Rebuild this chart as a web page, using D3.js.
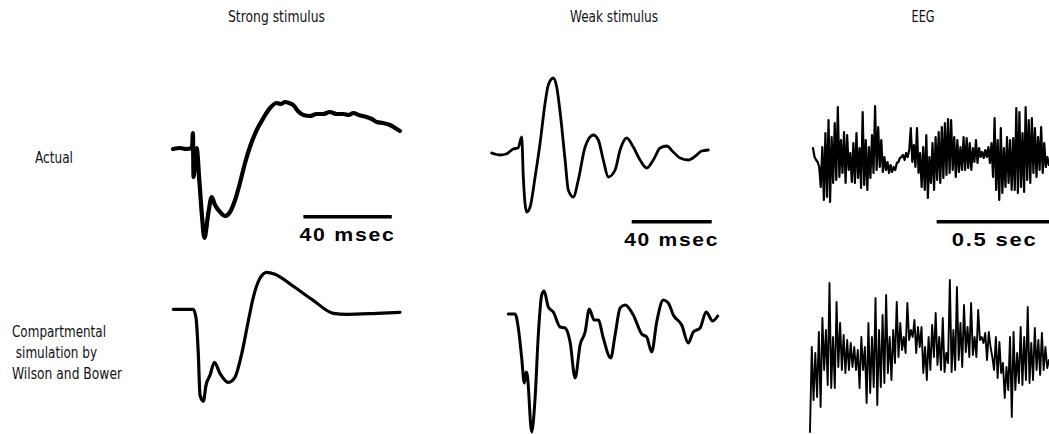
<!DOCTYPE html>
<html><head><meta charset="utf-8">
<script src="https://cdn.jsdelivr.net/npm/d3@7"></script>
<style>body{margin:0;background:#fff}svg{display:block}</style>
</head><body>
<script>
// ---------- DATA ----------
const columnTitles = ["Strong stimulus", "Weak stimulus", "EEG"];
const rowLabels = [["Actual"], ["Compartmental", " simulation by", "Wilson and Bower"]];

// Strong stimulus, actual (time ms, amplitude a.u.)
const strongActualT = [0,3.2,5.9,8.6,9.0,9.3,10.7,11.9,13.0,14.2,16.0,17.5,19.0,21.3,23.5,25.8,28.1,30.3,32.6,34.8,37.9,40.9,43.9,46.9,48.8,50.7,52.5,54.4,56.5,59.0,62,65.0,68,71.0,74,77.1,79.5,81.6,84,87.6,90,92.2,95,98.2,100.5,102.7];
const strongActualV = [0,1,0,1,16,-28,1,-31,-64,-89,-64,-48,-56,-63,-67,-63,-51,-34,-14,2,19,31,41,46,45,47,46,44,38,34,33,35,35,37,35,35,34,36,34,32,30,27,26,24,21,18];

// Strong stimulus, simulation
const strongSimT = [0,9.0,10.3,11.3,12.1,13.6,14.8,16.6,18.6,21.1,24.9,27.9,31.0,34.0,36.2,39.2,42.3,46.0,54.3,63.3,72.4,78.5,92.1,102.6];
const strongSimV = [0,0,-9,-44,-86,-92,-76,-66,-53,-64,-73,-68,-44,-11,12,31,37,35,23,9,-4,-5,-4,-3];

// Weak stimulus, actual
const weakActualT = [0,4.2,7.2,10.8,13.2,15.0,15.8,17.5,19.2,21.7,24.2,26.7,28.3,30.8,32.5,34.2,36.7,38.3,40.8,43.3,46.7,50.8,53.3,55.8,58.3,61.7,64.2,67.5,70.8,74.2,77.5,80.8,84.2,87.5,90.8,94.2,98.3,102.5,105.0,108.3];
const weakActualV = [0,-2,-1,4,5,16,-24,-59,-54,-24,10,50,68,75,66,41,-7,-37,-44,-27,6,18,13,-7,-24,-17,3,15,6,-7,-15,-7,5,7,1,-5,-7,-2,2,3];

// Weak stimulus, simulation
const weakSimT = [0,3.4,5.0,6.7,8.0,8.9,9.5,11.7,13.4,15.0,16.7,17.9,20.0,22.5,25.9,28.4,30.9,33.4,35.9,38.4,40.5,42.9,45.0,47.5,51.2,53.4,55.9,58.4,62.5,66.7,69.2,71.7,74.2,77.5,80.0,82.5,86.7,90.0,92.5,95.9,98.9,102.2,104.7];
const weakSimV = [0,0,-14,-44,-69,-58,-61,-118,-84,-21,19,23,7,2,-13,-14,-28,-64,-31,-18,5,-6,-6,-24,-44,-21,6,9,-1,-20,-23,-38,-8,14,11,-1,-11,-29,-18,-14,2,-7,-2];

// EEG, actual (uniform sampling, ms per sample)
const eegActualDt = 6.69;
const eegActualV = [15,6,3,1,-4,
 -24,16,-37,30,-34,43,-39,26,-20,40,-17,56,-14,23,-10,31,
 -20,28,-7,10,-19,20,-20,30,-15,15,-25,51,-22,23,-27,16,-15,28,-10,57,-7,36,-4,23,-9,6,
 -7,1,-10,-2,-9,-4,-7,0,1,5,6,8,3,10,6,13,
 35,1,18,-4,35,-10,10,-24,16,-27,28,-35,6,-20,20,-27,26,-17,
 31,-20,36,-15,40,-12,44,-10,43,-7,26,-14,23,-9,16,-7,
 26,-7,25,-5,20,-7,15,1,23,0,15,6,11,5,13,6,16,0,20,-14,
 45,-27,23,-37,35,-30,15,-24,26,-20,23,-27,25,
 -27,55,-30,51,-24,30,-29,56,-17,43,-20,45,-10,35,-14,26,-7,36,-10,20,-4,6,-2];

// EEG, simulation
const eegSimDt = 7.63;
const eegSimV = [-69,16,-37,10,-34,31,-44,45,-7,33,
 -22,80,-25,26,-25,61,-4,40,-7,28,
 -10,23,-7,20,-4,16,-7,13,-25,26,
 -7,16,-40,40,-30,26,-24,65,-42,33,
 -24,48,-20,68,-10,26,-17,33,0,61,
 6,40,
 13,26,10,60,23,33,26,43,10,36,
 16,36,-10,16,-17,26,-7,38,6,50,-2,26,
 -7,45,-9,10,0,83,-9,33,-7,76,
 3,40,-4,58,11,36,6,60,8,26,
 6,53,23,26,20,30,3,31,16,6,
 -7,26,-15,21,-10,0,-35,-4,-27,26,
 -54,31,-27,10,-20,36,-22,26,-17,56,
 -20,20,-17,35,-7,23,-12,30,-7,16,
 -5,3];

// Scale bars: [start, length] in ms
const strongBar = [59, 40];
const weakBar = [70, 40];
const eegBar = [533, 500];
const barLabels = ["40 msec", "40 msec", "0.5 sec"];

// ---------- DRAW ----------
const W = 1049, H = 434;
const svg = d3.select("body").append("svg").attr("width", W).attr("height", H);
svg.append("rect").attr("width", W).attr("height", H).attr("fill", "#fff");

const thinFont = "'Liberation Sans Narrow','DejaVu Sans Condensed','Open Sans',sans-serif";
const boldFont = "'Liberation Sans','Arial',sans-serif";

function panel(x0, pxPerMs, baseY) {
  const x = d3.scaleLinear().domain([0, 100]).range([x0, x0 + 100 * pxPerMs]);
  const y = d3.scaleLinear().domain([-100, 100]).range([baseY + 100, baseY - 100]);
  return {x, y};
}
function trace(p, T, V, width, curve) {
  const pts = T.map((t, i) => [t, V[i]]);
  const line = d3.line().x(d => p.x(d[0])).y(d => p.y(d[1])).curve(curve);
  svg.append("path").attr("d", line(pts)).attr("fill", "none")
    .attr("stroke", "#000").attr("stroke-width", width)
    .attr("stroke-linejoin", "round").attr("stroke-linecap", "round");
}
function bar(p, b, v, label, len) {
  const yb = p.y(v);
  svg.append("line").attr("x1", p.x(b[0])).attr("x2", p.x(b[0] + b[1]))
    .attr("y1", yb).attr("y2", yb).attr("stroke", "#000").attr("stroke-width", 3.5);
  const cx = (p.x(b[0]) + Math.min(p.x(b[0] + b[1]), W + 4)) / 2;
  svg.append("text").attr("x", cx).attr("y", yb + 24).attr("text-anchor", "middle")
    .attr("font-family", boldFont).attr("font-weight", "bold").attr("font-size", 18.5)
    .attr("letter-spacing", 1.5)
    .attr("textLength", len).attr("lengthAdjust", "spacingAndGlyphs")
    .text(label);
}

const pSA = panel(173, 2.21, 149);
const pSS = panel(173.3, 2.21, 309.3);
const pWA = panel(491.7, 2.0, 153);
const pWS = panel(508.3, 2.0, 314);
const pEA = panel(813, 0.232, 163);
const pES = panel(810, 0.232, 363);

trace(pSA, strongActualT, strongActualV, 4.2, d3.curveMonotoneX);
trace(pSS, strongSimT, strongSimV, 3.2, d3.curveMonotoneX);
trace(pWA, weakActualT, weakActualV, 2.8, d3.curveMonotoneX);
trace(pWS, weakSimT, weakSimV, 3.0, d3.curveMonotoneX);
trace(pEA, eegActualV.map((_, i) => i * eegActualDt), eegActualV, 2.2, d3.curveLinear);
trace(pES, eegSimV.map((_, i) => i * eegSimDt), eegSimV, 1.9, d3.curveLinear);

bar(pSA, strongBar, -67.7, barLabels[0], 96);
bar(pWA, weakBar, -68.7, barLabels[1], 95);
bar(pEA, eegBar, -58.7, barLabels[2], 86);

// Titles
const titlePos = [[276.5, 97], [614, 88], [923, 23]];
columnTitles.forEach((t, i) => {
  svg.append("text").attr("x", titlePos[i][0]).attr("y", 22).attr("text-anchor", "middle")
    .attr("font-family", thinFont).attr("font-size", 15).attr("fill", "#111")
    .attr("textLength", titlePos[i][1]).attr("lengthAdjust", "spacingAndGlyphs").text(t);
});

// Row labels
svg.append("text").attr("x", 35).attr("y", 163).attr("font-family", thinFont)
  .attr("font-size", 15).attr("fill", "#111").attr("textLength", 38)
  .attr("lengthAdjust", "spacingAndGlyphs").text(rowLabels[0][0]);
const simLab = [[12, 337, 94], [12, 358, 85], [12, 379, 110]];
rowLabels[1].forEach((t, i) => {
  svg.append("text").attr("x", simLab[i][0]).attr("y", simLab[i][1]).attr("font-family", thinFont)
    .attr("font-size", 15).attr("fill", "#111").attr("xml:space", "preserve")
    .attr("textLength", simLab[i][2]).attr("lengthAdjust", "spacingAndGlyphs").text(t);
});
</script>
</body></html>
